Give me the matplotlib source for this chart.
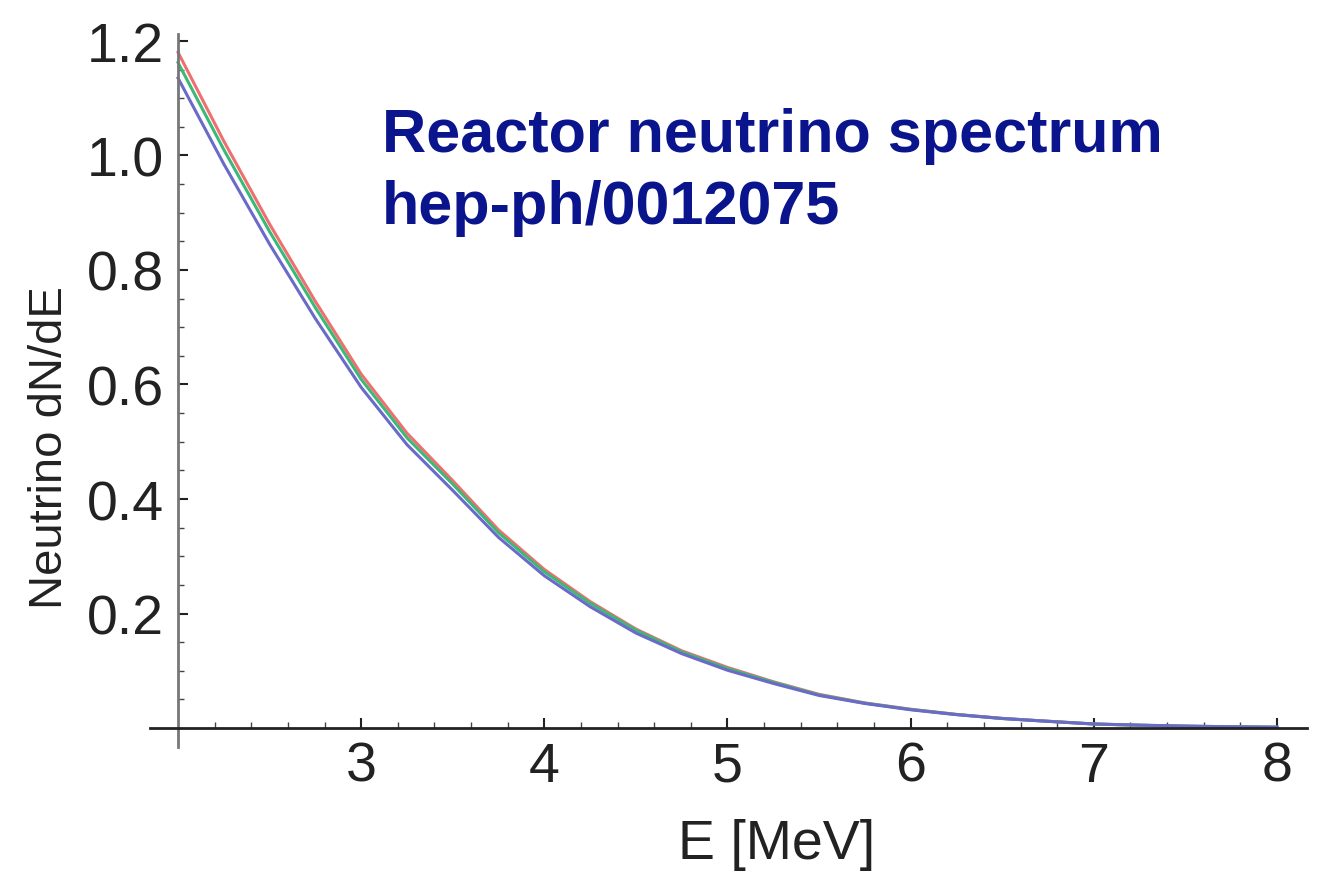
import numpy as np
import matplotlib.pyplot as plt

plt.rcParams['font.family'] = ['Liberation Sans', 'DejaVu Sans']

# energy grid (MeV) and spectra
energy = [2.0, 2.25, 2.5, 2.75, 3.0, 3.25, 3.5, 3.75, 4.0, 4.25, 4.5, 4.75,
          5.0, 5.25, 5.5, 5.75, 6.0, 6.25, 6.5, 6.75, 7.0, 7.25, 7.5, 7.75, 8.0]
red = [1.180, 1.025, 0.880, 0.745, 0.618, 0.515, 0.432, 0.346, 0.277, 0.221,
       0.173, 0.135, 0.106, 0.081, 0.059, 0.044, 0.033, 0.024, 0.017, 0.012,
       0.0072, 0.0050, 0.0033, 0.0022, 0.0015]
green = [1.162, 1.010, 0.867, 0.734, 0.609, 0.507, 0.426, 0.341, 0.273, 0.218,
         0.171, 0.133, 0.104, 0.080, 0.058, 0.0435, 0.0325, 0.0237, 0.0168, 0.0119,
         0.0071, 0.0050, 0.0034, 0.0023, 0.0016]
blue = [1.135, 0.985, 0.845, 0.715, 0.595, 0.495, 0.415, 0.333, 0.266, 0.212,
        0.166, 0.130, 0.101, 0.078, 0.057, 0.043, 0.032, 0.0235, 0.0167, 0.0118,
        0.0072, 0.0052, 0.0035, 0.0024, 0.0016]

xticks = [3, 4, 5, 6, 7, 8]
yticks = [0.2, 0.4, 0.6, 0.8, 1.0, 1.2]

fig = plt.figure(figsize=(13.2, 8.78), dpi=100)
ax = fig.add_axes([150/1320, 1-748/878, 1157/1320, 713/878])

ax.plot(energy, red, color='#ef6f6f', lw=2.2)
ax.plot(energy, green, color='#3cb878', lw=2.2)
ax.plot(energy, blue, color='#6a6ac8', lw=2.2)

ax.set_xlim(1.847, 8.164)
ax.set_ylim(-0.033, 1.212)

for s in ['top', 'right']:
    ax.spines[s].set_visible(False)
ax.spines['left'].set_position(('data', 2))
ax.spines['bottom'].set_position(('data', 0))
ax.spines['left'].set_color('#777777')
ax.spines['bottom'].set_color('#222222')
ax.spines['left'].set_linewidth(2)
ax.spines['bottom'].set_linewidth(2)

ax.set_xticks(xticks)
ax.set_xticklabels([str(t) for t in xticks])
ax.set_xticks(np.arange(2.2, 8.01, 0.2), minor=True)
ax.set_yticks(yticks)
ax.set_yticklabels(['%.1f' % t for t in yticks])
ax.set_yticks(np.arange(0.05, 1.21, 0.05), minor=True)

ax.tick_params(axis='both', which='major', direction='in', length=7, width=1.5,
               labelsize=40, colors='#222222', pad=9)
ax.tick_params(axis='both', which='minor', direction='in', length=4, width=1,
               colors='#444444')
ax.tick_params(axis='y', which='major', pad=10)

ax.set_xlabel('E [MeV]', fontsize=40, color='#222222')
ax.xaxis.set_label_coords(0.542, -0.1)
ax.set_ylabel('Neutrino dN/dE', fontsize=34, color='#222222')
ax.yaxis.set_label_coords(-0.067, 0.422)

fig.text(382/1320, 1-152/878, 'Reactor neutrino spectrum',
         fontsize=44, fontweight='bold', color='#0a148c', va='baseline', ha='left')
fig.text(382/1320, 1-224/878, 'hep-ph/0012075',
         fontsize=44, fontweight='bold', color='#0a148c', va='baseline', ha='left')

plt.savefig('out.png', dpi=100)
